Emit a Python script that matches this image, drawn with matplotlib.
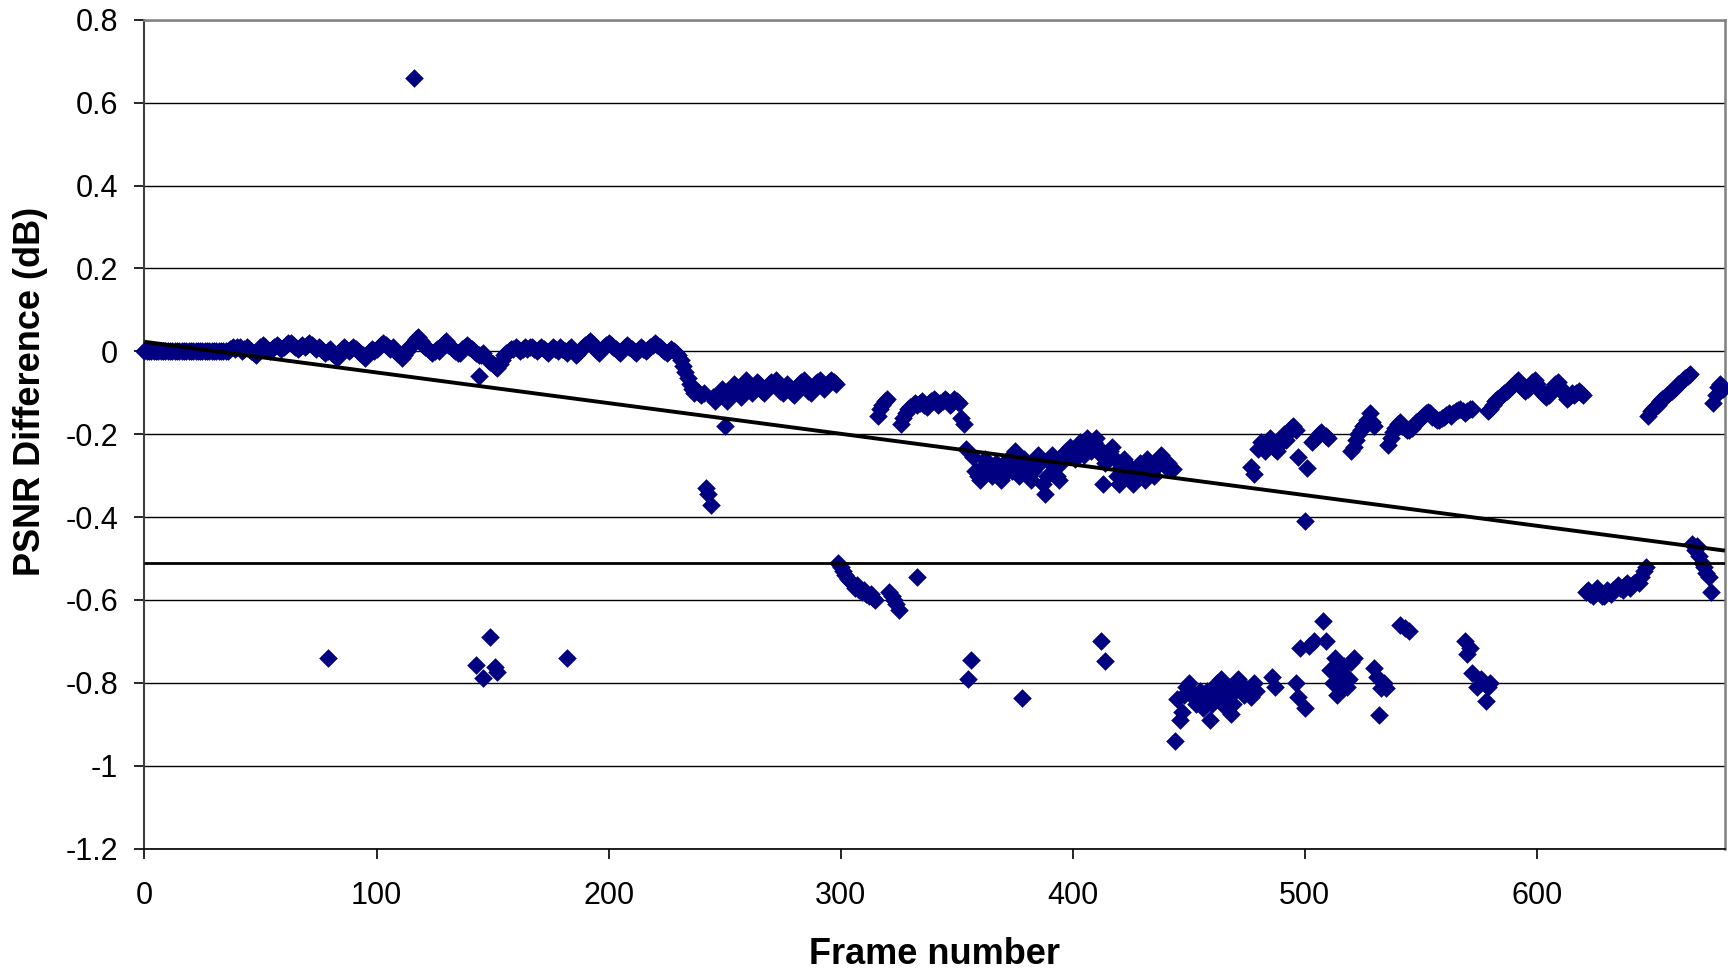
import matplotlib
matplotlib.use("Agg")
import matplotlib.pyplot as plt
import numpy as np

# PSNR difference per frame, typed in segments (start frame, values)
flat_start = 0
flat = [0.0, 0.0, 0.0, 0.0, 0.0, 0.0, 0.0, 0.0, 0.0, 0.0,
        0.0, 0.0, 0.0, 0.0, 0.0, 0.0, 0.0, 0.0, 0.0, 0.0,
        0.0, 0.0, 0.0, 0.0, 0.0, 0.0, 0.0, 0.0, 0.0, 0.0,
        0.0, 0.0, 0.0, 0.0, 0.0, 0.0]

band1_start = 36
band1 = [0.0, 0.005, 0.01, 0.005, 0.01, 0.01, 0.0, 0.005, 0.01, 0.005,
         0.0, -0.005, -0.01, 0.0, 0.01, 0.015, 0.01, 0.005, 0.0, 0.005,
         0.01, 0.015, 0.01, 0.005, 0.01, 0.015, 0.02, 0.02, 0.015, 0.01,
         0.005, 0.01, 0.015, 0.01, 0.015, 0.02, 0.015, 0.01, 0.005, 0.01,
         0.005, 0.0, -0.005, 0.0, 0.005, -0.005, -0.01, -0.015, -0.005, 0.005,
         0.01, 0.005, 0.0, 0.005, 0.01, 0.005, 0.0, -0.005, -0.01, -0.015,
         -0.01, 0.0, 0.005, 0.0, 0.005, 0.01, 0.015, 0.02, 0.015, 0.01,
         0.005, 0.01, 0.0, -0.005, -0.01, -0.015, -0.01, 0.0, 0.01, 0.015]

band2_start = 116
band2 = [0.02, 0.03, 0.035, 0.025, 0.015, 0.01, 0.005, 0.0, -0.005, 0.0,
         0.005, 0.0, 0.01, 0.02, 0.025, 0.015, 0.01, 0.005, 0.0, -0.005,
         -0.005, 0.005, 0.01, 0.015, 0.01, 0.005, 0.0, -0.005, -0.01, -0.01,
         -0.005, -0.015, -0.02, -0.025, -0.03, -0.035, -0.04, -0.03, -0.02, -0.01,
         -0.005, 0.0, 0.005, 0.005, 0.01, 0.005, 0.0, 0.005, 0.01, 0.005,
         0.01, 0.01, 0.005, 0.0, 0.005, 0.01, 0.005, 0.0, -0.005, 0.005,
         0.01, 0.005, 0.0, 0.01, 0.005, 0.0, -0.005, 0.005, 0.01, 0.0,
         -0.01, -0.005, 0.005, 0.01, 0.015, 0.02, 0.025, 0.02, 0.01, 0.0,
         -0.005, 0.005, 0.01, 0.015, 0.02, 0.015, 0.01, 0.005, 0.0, -0.005,
         0.005, 0.01, 0.015, 0.01, 0.005, 0.0, -0.005, 0.005, 0.01, 0.005,
         0.0, 0.005, 0.01, 0.015, 0.02, 0.015, 0.01, 0.005, 0.0, -0.005,
         0.0, 0.005, 0.0, -0.005]

step_start = 230
step = [-0.01, -0.02, -0.035, -0.05, -0.065, -0.08, -0.09, -0.1, -0.095, -0.1,
        -0.105, -0.1, -0.33, -0.345, -0.37, -0.11, -0.12, -0.11, -0.1, -0.09,
        -0.18, -0.12, -0.1, -0.09, -0.08, -0.09, -0.1, -0.11, -0.09, -0.07,
        -0.08, -0.09, -0.1, -0.085, -0.075, -0.08, -0.095, -0.1, -0.09, -0.08,
        -0.075, -0.08, -0.07, -0.08, -0.095, -0.1, -0.09, -0.08, -0.09, -0.1,
        -0.105, -0.09, -0.08, -0.075, -0.07, -0.08, -0.095, -0.1, -0.09, -0.08,
        -0.075, -0.07, -0.08, -0.09, -0.08, -0.075, -0.07, -0.075, -0.08]

dip_start = 299
dip = [-0.51, -0.52, -0.53, -0.54, -0.55, -0.555, -0.56, -0.57, -0.565, -0.575,
       -0.58, -0.575, -0.585, -0.59, -0.585, -0.595, -0.6, -0.155, -0.14, -0.13,
       -0.12, -0.115, -0.58, -0.59, -0.6, -0.61, -0.625, -0.175, -0.16, -0.15,
       -0.14, -0.135, -0.13, -0.125, -0.13, -0.125, -0.12, -0.13, -0.135, -0.125,
       -0.12, -0.115, -0.12, -0.13, -0.125, -0.12, -0.115, -0.12, -0.13, -0.125,
       -0.115, -0.12, -0.125, -0.16, -0.175, -0.235, -0.79, -0.745]

cluster_start = 357
cluster = [-0.255, -0.29, -0.3, -0.31, -0.28, -0.26, -0.27, -0.29, -0.3, -0.28,
           -0.27, -0.29, -0.31, -0.3, -0.28, -0.26, -0.27, -0.29, -0.24, -0.28,
           -0.3, -0.27, -0.26, -0.28, -0.3, -0.31, -0.29, -0.26, -0.25, -0.27,
           -0.32, -0.345, -0.3, -0.26, -0.25, -0.28, -0.3, -0.31, -0.27, -0.25,
           -0.24, -0.25, -0.23, -0.24, -0.26, -0.24, -0.22, -0.23, -0.25, -0.21,
           -0.22, -0.24, -0.22, -0.21, -0.23, -0.25, -0.32, -0.27, -0.26, -0.24,
           -0.23, -0.26, -0.3, -0.32, -0.28, -0.26, -0.27, -0.29, -0.31, -0.32,
           -0.3, -0.28, -0.27, -0.29, -0.31, -0.26, -0.27, -0.29, -0.3, -0.28,
           -0.26, -0.25, -0.27, -0.28, -0.27, -0.28, -0.285]

low_start = 444
low = [-0.94, -0.84, -0.89, -0.87, -0.83, -0.81, -0.8, -0.82, -0.835, -0.85,
       -0.84, -0.82, -0.86, -0.84, -0.82, -0.89, -0.85, -0.815, -0.8, -0.83,
       -0.79, -0.855, -0.83, -0.81, -0.875, -0.85, -0.82, -0.79, -0.8, -0.81,
       -0.83, -0.815, -0.82, -0.835, -0.8, -0.82]

rise_start = 480
rise = [-0.235, -0.22, -0.23, -0.24, -0.225, -0.21, -0.22, -0.235, -0.24, -0.225,
        -0.21, -0.2, -0.215, -0.195, -0.185, -0.18, -0.19, -0.255]

climb_start = 520
climb = [-0.24, -0.23, -0.215, -0.2, -0.19, -0.18, -0.175, -0.165, -0.15, -0.17, -0.18]

shelf_start = 536
shelf = [-0.225, -0.21, -0.195, -0.185, -0.175, -0.17, -0.18, -0.185, -0.19, -0.19,
         -0.185, -0.178, -0.17, -0.165, -0.16, -0.155, -0.15, -0.146, -0.15, -0.158,
         -0.162, -0.166, -0.165, -0.16, -0.158, -0.154, -0.15, -0.155, -0.15, -0.145,
         -0.142, -0.14, -0.145, -0.15, -0.145, -0.14, -0.14]

plateau_start = 579
plateau = [-0.145, -0.14, -0.13, -0.12, -0.115, -0.11, -0.105, -0.1, -0.095, -0.09,
           -0.085, -0.08, -0.075, -0.07, -0.08, -0.09, -0.095, -0.09, -0.085, -0.075,
           -0.07, -0.08, -0.09, -0.1, -0.105, -0.11, -0.105, -0.095, -0.085, -0.08,
           -0.075, -0.085, -0.095, -0.105, -0.115, -0.11, -0.1, -0.105, -0.1, -0.095,
           -0.1, -0.105]

drop_start = 621
drop = [-0.58, -0.575, -0.585, -0.59, -0.58, -0.57, -0.58, -0.59, -0.59, -0.575,
        -0.58, -0.585, -0.575, -0.57, -0.565, -0.57, -0.575, -0.565, -0.56, -0.57,
        -0.565, -0.56, -0.555, -0.56, -0.545, -0.53, -0.52]

ramp_start = 648
ramp = [-0.155, -0.145, -0.14, -0.135, -0.13, -0.12, -0.115, -0.11, -0.105, -0.1,
        -0.095, -0.09, -0.085, -0.08, -0.075, -0.07, -0.065, -0.06, -0.055]

tail_start = 667
tail = [-0.465, -0.48, -0.47, -0.495, -0.51, -0.52, -0.535, -0.545, -0.58,
        -0.125, -0.105, -0.085, -0.08, -0.09]

# scattered frames that sit off the main runs
extra_frames = [116, 79, 144, 143, 146, 149, 151, 152, 182, 333, 378, 412, 414, 477, 478,
                486, 487, 496, 497, 498, 500, 500, 501, 502, 503, 504, 505, 506, 507, 508,
                509, 509, 510, 511, 512, 513, 514, 515, 516, 517, 518, 519, 520, 521,
                530, 531, 532, 533, 534, 535, 541, 543, 545,
                569, 570, 571, 572, 574, 576, 577, 578, 579, 580]
extra_psnr = [0.66, -0.74, -0.06, -0.757, -0.789, -0.69, -0.762, -0.775, -0.739, -0.545,
              -0.837, -0.698, -0.747, -0.28, -0.295,
              -0.785, -0.81, -0.80, -0.835, -0.715, -0.86, -0.41, -0.282, -0.71, -0.22,
              -0.70, -0.21, -0.2, -0.195, -0.65, -0.205, -0.70, -0.21, -0.77, -0.80,
              -0.74, -0.83, -0.81, -0.78, -0.76, -0.81, -0.79, -0.75, -0.74,
              -0.765, -0.785, -0.878, -0.813, -0.80, -0.813, -0.66, -0.668, -0.676,
              -0.70, -0.73, -0.715, -0.777, -0.81, -0.79, -0.80, -0.845, -0.81, -0.80]

# trend line and average line
trend_frames = [0, 681]
trend_psnr = [0.023, -0.481]
mean_frames = [0, 681]
mean_psnr = [-0.51, -0.51]

yticks = [-1.2, -1, -0.8, -0.6, -0.4, -0.2, 0, 0.2, 0.4, 0.6, 0.8]
xticks = [0, 100, 200, 300, 400, 500, 600]

segments = [(flat_start, flat), (band1_start, band1), (band2_start, band2),
            (step_start, step), (dip_start, dip), (cluster_start, cluster),
            (low_start, low), (rise_start, rise), (climb_start, climb),
            (shelf_start, shelf), (plateau_start, plateau), (drop_start, drop),
            (ramp_start, ramp), (tail_start, tail)]

x = []
y = []
for s, vals in segments:
	x.extend(range(s, s + len(vals)))
	y.extend(vals)
x.extend(extra_frames)
y.extend(extra_psnr)

plt.rcParams['font.family'] = ['Liberation Sans', 'DejaVu Sans']
plt.rcParams['axes.unicode_minus'] = False

fig = plt.figure(figsize=(17.28, 9.72), dpi=100)
ax = fig.add_axes([0.0836, 0.127, 0.9146, 0.8526])

ax.scatter(x, y, marker='D', s=90, color='#000080', linewidths=0, zorder=3, clip_on=False)
ax.plot(trend_frames, trend_psnr, color='black', lw=2.8, zorder=4, solid_capstyle='butt')
ax.plot(mean_frames, mean_psnr, color='black', lw=2.0, zorder=4, solid_capstyle='butt')

ax.set_xlim(0, 681)
ax.set_ylim(-1.2, 0.8)
ax.set_xticks(xticks)
ax.set_yticks(yticks)
ax.set_yticklabels(['%g' % v for v in yticks])
ax.tick_params(axis='both', labelsize=22, direction='out', length=7, width=1.2, colors='black')
ax.tick_params(axis='x', pad=16)
ax.tick_params(axis='y', pad=12)
ax.yaxis.grid(True, color='black', lw=1.0)
ax.set_axisbelow(True)

for side in ['top', 'right']:
	ax.spines[side].set_color('#808080')
	ax.spines[side].set_linewidth(1.8)
ax.spines['left'].set_color('#404040')
ax.spines['left'].set_linewidth(1.5)
ax.spines['bottom'].set_color('black')
ax.spines['bottom'].set_linewidth(1.2)

ax.set_xlabel('Frame number', fontsize=26, fontweight='bold')
ax.set_ylabel('PSNR Difference (dB)', fontsize=26, fontweight='bold')
ax.xaxis.label.set_va('center')
ax.yaxis.label.set_va('center')
ax.xaxis.set_label_coords(0.5, -0.128)
ax.yaxis.set_label_coords(-0.0724, 0.552)

fig.savefig('out.png', dpi=100)
